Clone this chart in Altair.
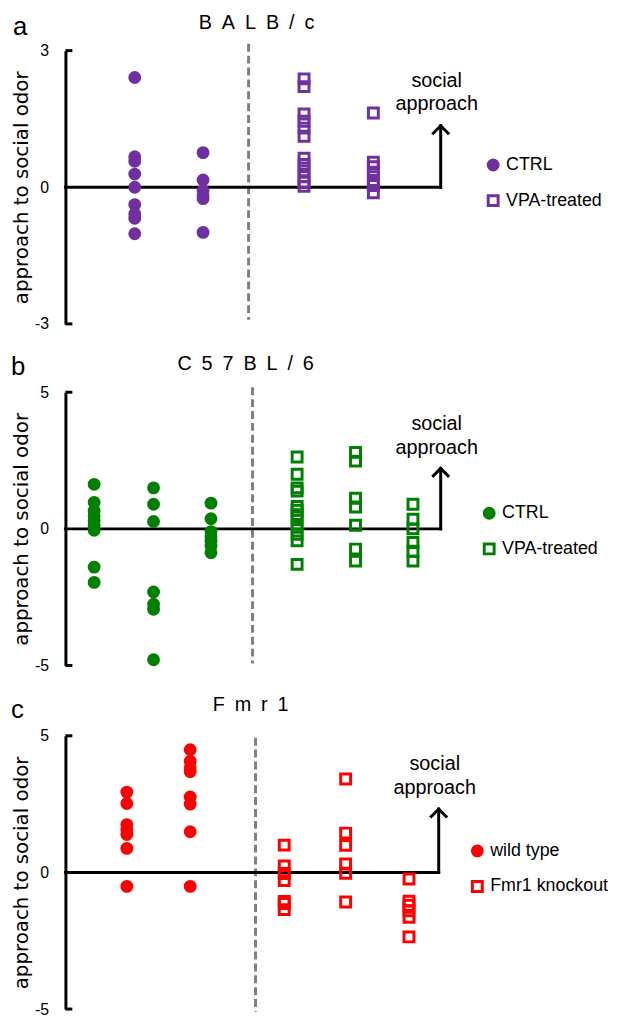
import altair as alt
import pandas as pd

# ---------------- data ----------------
# a  BALB/c
balb_ctrl_1 = [2.41, 0.67, 0.57, 0.29, 0.0, -0.38, -0.58, -0.68, -1.02]
balb_ctrl_2 = [0.76, 0.16, -0.07, -0.18, -0.25, -0.99]
balb_vpa_1 = [2.38, 2.21, 1.61, 1.45, 1.30, 1.12, 0.64, 0.50, 0.36, 0.23, 0.11, 0.02]
balb_vpa_2 = [1.63, 0.55, 0.45, 0.30, 0.15, 0.04, -0.12]
# b  C57BL/6
c57_ctrl_1 = [1.63, 0.97, 0.66, 0.48, 0.30, 0.12, -0.05, -1.40, -1.96]
c57_ctrl_2 = [1.50, 0.90, 0.27, -2.31, -2.76, -2.94, -4.79]
c57_ctrl_3 = [0.94, 0.37, -0.10, -0.28, -0.45, -0.63, -0.87]
c57_vpa_1 = [2.63, 2.00, 1.50, 1.38, 0.82, 0.68, 0.52, 0.33, 0.06, -0.20, -0.44, -1.30]
c57_vpa_2 = [2.80, 2.48, 1.12, 0.80, 0.13, -0.74, -1.18]
c57_vpa_3 = [0.90, 0.35, 0.00, -0.50, -0.82, -1.18]
# c  Fmr1
fmr1_wt_1 = [2.94, 2.52, 1.75, 1.57, 1.39, 0.88, -0.51]
fmr1_wt_2 = [4.49, 4.07, 3.83, 3.69, 2.76, 2.50, 1.49, -0.51]
fmr1_ko_1 = [1.00, 0.24, -0.04, -0.30, -1.06, -1.14, -1.36]
fmr1_ko_2 = [3.42, 1.44, 0.99, 0.31, -0.03, -1.08]
fmr1_ko_3 = [-0.24, -1.05, -1.20, -1.40, -1.64, -2.36]

groups_vpa = ["CTRL", "VPA-treated"]
groups_fmr1 = ["wild type", "Fmr1 knockout"]
strains = ["B\u2002A\u2002L\u2002B\u2002/\u2002c", "C\u20025\u20027\u2002B\u2002L\u2002/\u20026", "F\u2002m\u2002r\u20021"]
letters = ["a", "b", "c"]
y_title = "approach to social odor"
arrow_text = "social\napproach"

# ---------------- layout (not data) ----------------
W = 480
H = 276
FONT = "Liberation Sans"
one = pd.DataFrame({"k": [0]})


def panel(letter, strain, ymax, colour, names, columns, L):
    rows = []
    for (gi, vals), xpos in zip(columns, L["cols"]):
        for v in vals:
            rows.append({"x": xpos, "value": v, "group": names[gi]})
    df = pd.DataFrame(rows)
    xs = alt.Scale(domain=[0, W], nice=False, zero=False)
    ys = alt.Scale(domain=[-ymax, ymax], nice=False, zero=False)
    yaxis = alt.Axis(values=[-ymax, 0, ymax], labelExpr="'' + datum.value", labelFont=FONT,
                     labelFontSize=16, labelColor="black", labelPadding=17, ticks=False,
                     tickSize=0, domainColor="black", domainWidth=3, grid=False,
                     title=y_title, titleFont="DejaVu Sans", titleFontSize=20,
                     titleFontWeight="normal", titleColor="black", titlePadding=3)

    def X(d):
        return alt.X(datum=d, scale=xs, axis=None)

    def Y(d):
        return alt.Y(datum=d, scale=ys, axis=yaxis, title=y_title)

    divider = alt.Chart(one).mark_rule(color="#7f7f7f", strokeWidth=3, strokeDash=[8, 4]).encode(
        x=X(L["div"]), y=Y(L["div_top"]), y2=alt.Y2(datum=L["div_bot"]))
    zero = alt.Chart(one).mark_rule(color="black", strokeWidth=3, strokeCap="square").encode(
        x=X(0), x2=alt.X2(datum=L["arrow"]), y=Y(0))
    up = alt.Chart(one).mark_rule(color="black", strokeWidth=3, strokeCap="square").encode(
        x=X(L["arrow"]), y=Y(0), y2=alt.Y2(datum=L["tip"]))
    head = alt.Chart(one).mark_point(shape="M -1 1 L 0 0 L 1 1", filled=False, size=290,
                                     strokeWidth=3, color="black", opacity=1).encode(
        x=X(L["arrow"]), y=Y(L["tip"]))
    stub_top = alt.Chart(one).mark_rule(color="black", strokeWidth=3).encode(
        x=X(0), x2=alt.X2(datum=7), y=Y(ymax))
    stub_bot = alt.Chart(one).mark_rule(color="black", strokeWidth=3).encode(
        x=X(0), x2=alt.X2(datum=7), y=Y(-ymax))
    social = alt.Chart(one).mark_text(text=arrow_text, lineBreak="\n", lineHeight=24, font=FONT,
                                      fontSize=20, align="center", baseline="alphabetic",
                                      color="black").encode(x=X(L["tx"]), y=Y(L["ty"]))
    title = alt.Chart(one).mark_text(text=strain, font=FONT, fontSize=20, align="center",
                                     baseline="alphabetic", color="black").encode(
        x=X(L["title_x"]), y=alt.value(L["title_y"]))
    let = alt.Chart(one).mark_text(text=letter, font=FONT, fontSize=26, align="left",
                                   baseline="alphabetic", color="black").encode(
        x=alt.value(L["letter_x"]), y=alt.value(L["letter_y"]))

    leg_top = (ymax - L["leg_v"]) / (2 * ymax) * H - 9
    legend = alt.Legend(orient="none", legendX=L["leg_x"] - 7, legendY=leg_top, title=None,
                        labelFont=FONT, labelFontSize=18, labelColor="black", rowPadding=14,
                        labelOffset=4, symbolStrokeWidth=3, symbolSize=100, padding=0)
    pts = alt.Chart(df).mark_point(size=100, strokeWidth=3, opacity=1).encode(
        x=alt.X("x:Q", scale=xs, axis=None),
        y=alt.Y("value:Q", scale=ys, axis=yaxis, title=y_title),
        shape=alt.Shape("group:N", scale=alt.Scale(domain=names, range=["circle", "square"]),
                        legend=legend),
        fill=alt.Fill("group:N", scale=alt.Scale(domain=names, range=[colour, "transparent"]),
                      legend=legend),
        stroke=alt.Stroke("group:N", scale=alt.Scale(domain=names, range=[colour, colour]),
                          legend=legend),
    )
    return alt.layer(divider, zero, up, head, stub_top, stub_bot, pts, social, title, let).properties(
        width=W, height=H)


pa = panel(letters[0], strains[0], 3, "#7030A0", groups_vpa,
           [(0, balb_ctrl_1), (0, balb_ctrl_2), (1, balb_vpa_1), (1, balb_vpa_2)],
           dict(cols=[70, 139, 241, 311], div=185, div_top=3.15, div_bot=-2.91, arrow=379,
                tip=1.35, tx=375, ty=2.21, title_x=193, title_y=-22, letter_y=-16, letter_x=-53,
                leg_x=430, leg_v=0.49))
pb = panel(letters[1], strains[1], 5, "#008000", groups_vpa,
           [(0, c57_ctrl_1), (0, c57_ctrl_2), (0, c57_ctrl_3),
            (1, c57_vpa_1), (1, c57_vpa_2), (1, c57_vpa_3)],
           dict(cols=[29, 89, 147, 234, 293, 351], div=189, div_top=5.18, div_bot=-4.93, arrow=379,
                tip=2.21, tx=375, ty=3.61, title_x=182, title_y=-22, letter_y=-17, letter_x=-55,
                leg_x=426, leg_v=0.57))
pc = panel(letters[2], strains[2], 5, "#FF0000", groups_fmr1,
           [(0, fmr1_wt_1), (0, fmr1_wt_2), (1, fmr1_ko_1), (1, fmr1_ko_2), (1, fmr1_ko_3)],
           dict(cols=[62, 126, 221, 283, 347], div=192, div_top=4.93, div_bot=-5.1, arrow=377,
                tip=2.32, tx=373, ty=3.75, title_x=187, title_y=-25, letter_y=-18, letter_x=-55,
                leg_x=414, leg_v=0.79))

chart = alt.vconcat(
    alt.vconcat(pa, pb, spacing=23).resolve_scale(shape="independent", fill="independent",
                                                  stroke="independent"),
    pc, spacing=22,
).resolve_scale(shape="independent", fill="independent", stroke="independent").properties(
    padding={"top": 0, "left": 3, "right": 0, "bottom": 0}).configure_view(stroke=None)

chart.save("out.html", embed_options={"renderer": "svg", "actions": False})
